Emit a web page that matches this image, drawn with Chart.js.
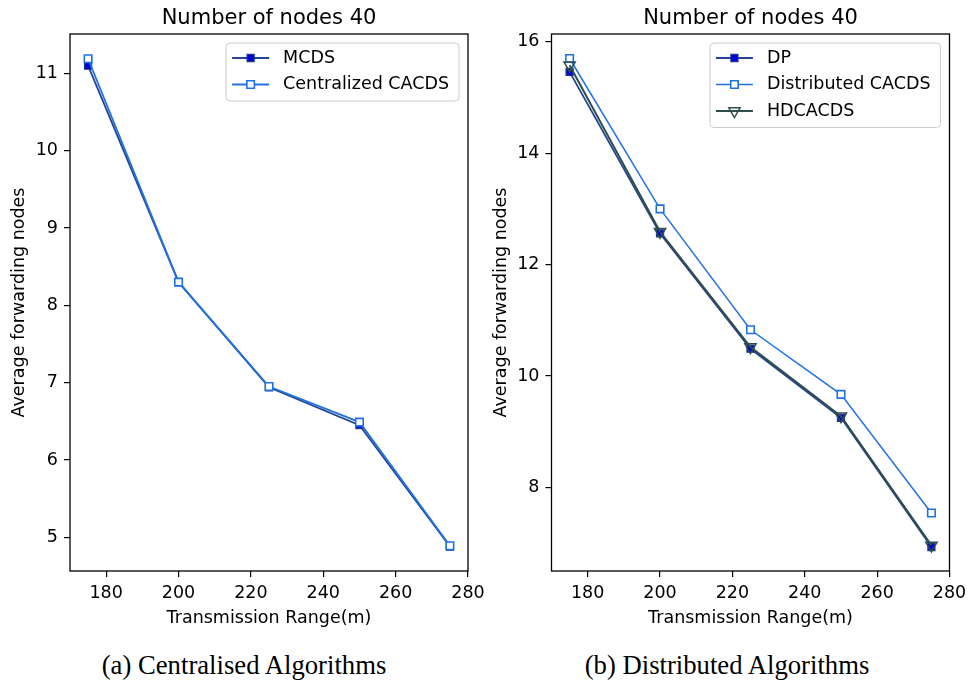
<!DOCTYPE html>
<html><head><meta charset="utf-8">
<script src="https://cdn.jsdelivr.net/npm/chart.js@4.4.1/dist/chart.umd.min.js"></script>
<style>
html,body{margin:0;padding:0;background:#fff;}
#wrap{position:relative;width:971px;height:685px;overflow:hidden;background:#fff;}
canvas{position:absolute;top:0;}
.cap{position:absolute;top:650px;width:400px;text-align:center;font-family:"Liberation Serif","Times New Roman",serif;font-size:26.7px;line-height:30px;color:#000;white-space:nowrap;}
</style></head><body>
<div id="wrap">
<canvas id="c1" width="485" height="640" style="left:0;width:485px;height:640px"></canvas>
<canvas id="c2" width="486" height="640" style="left:485px;width:486px;height:640px"></canvas>
<div class="cap" style="left:44px">(a) Centralised Algorithms</div>
<div class="cap" style="left:527px">(b) Distributed Algorithms</div>
</div>
<script>
// ---- data ----
const ranges = [175, 200, 225, 250, 275];
const mcds = [11.10, 8.30, 6.94, 6.45, 4.88];
const centralizedCacds = [11.19, 8.30, 6.95, 6.49, 4.89];
const dp = [15.46, 12.56, 10.49, 9.25, 6.93];
const distributedCacds = [15.70, 13.00, 10.83, 9.67, 7.54];
const hdcacds = [15.58, 12.59, 10.52, 9.28, 6.96];
const xTicks = [180, 200, 220, 240, 260, 280];
const yTicksA = [5, 6, 7, 8, 9, 10, 11];
const yTicksB = [8, 10, 12, 14, 16];
const titleText = 'Number of nodes 40';
const xLabel = 'Transmission Range(m)';
const yLabel = 'Average forwarding nodes';

const FONT = "'DejaVu Sans', sans-serif";
Chart.defaults.font.family = FONT;
Chart.defaults.color = '#000';

const pts = ys => ys.map((y, i) => ({x: ranges[i], y}));

function drawMarker(ctx, style, r, rot, x, y) {
  ctx.beginPath();
  if (style === 'rect') {
    const s = Math.SQRT1_2 * r;
    ctx.rect(x - s, y - s, 2 * s, 2 * s);
  } else if (style === 'triangle') {
    let rad = rot * Math.PI / 180;
    for (let k = 0; k < 3; k++) {
      const px = x + Math.sin(rad) * r, py = y - Math.cos(rad) * r;
      if (k === 0) ctx.moveTo(px, py); else ctx.lineTo(px, py);
      rad += 2 * Math.PI / 3;
    }
    ctx.closePath();
  }
  ctx.fill();
  ctx.stroke();
}

const frameAndLegend = {
  id: 'frameAndLegend',
  afterDatasetsDraw(chart) {
    const {ctx, chartArea: a} = chart;
    ctx.save();
    ctx.strokeStyle = '#000';
    ctx.lineWidth = 1.3;
    ctx.strokeRect(a.left, a.top, a.right - a.left, a.bottom - a.top);
    const ds = chart.data.datasets;
    ctx.font = '17.5px ' + FONT;
    let tw = 0;
    ds.forEach(d => { tw = Math.max(tw, ctx.measureText(d.label).width); });
    const padL = 6, lineLen = 37, gap = 14, padR = 10, rowH = 26.5;
    const w = padL + lineLen + gap + tw + padR;
    const h = ds.length * rowH + 5;
    const x0 = a.right - 9 - w, y0 = a.top + 9;
    const rr = 4;
    ctx.beginPath();
    ctx.moveTo(x0 + rr, y0);
    ctx.arcTo(x0 + w, y0, x0 + w, y0 + h, rr);
    ctx.arcTo(x0 + w, y0 + h, x0, y0 + h, rr);
    ctx.arcTo(x0, y0 + h, x0, y0, rr);
    ctx.arcTo(x0, y0, x0 + w, y0, rr);
    ctx.closePath();
    ctx.fillStyle = 'rgba(255,255,255,0.85)';
    ctx.fill();
    ctx.strokeStyle = '#cccccc';
    ctx.lineWidth = 1;
    ctx.stroke();
    ds.forEach((d, i) => {
      const cy = y0 + 15 + i * rowH;
      const lx = x0 + padL;
      ctx.strokeStyle = d.borderColor;
      ctx.lineWidth = d.borderWidth;
      ctx.beginPath();
      ctx.moveTo(lx, cy);
      ctx.lineTo(lx + lineLen, cy);
      ctx.stroke();
      ctx.fillStyle = d.pointBackgroundColor;
      ctx.strokeStyle = d.pointBorderColor;
      ctx.lineWidth = d.pointBorderWidth;
      drawMarker(ctx, d.pointStyle, d.pointRadius, d.rotation || 0, lx + lineLen / 2, cy);
      ctx.fillStyle = '#000';
      ctx.textAlign = 'left';
      ctx.textBaseline = 'middle';
      ctx.fillText(d.label, lx + lineLen + gap, cy);
    });
    ctx.restore();
  }
};

function makeChart(id, datasets, yMin, yMax, yTicks, yWidth, yTitlePad) {
  return new Chart(document.getElementById(id), {
    type: 'line',
    data: {datasets},
    options: {
      responsive: false,
      animation: false,
      events: [],
      layout: {padding: {left: 0, right: id === 'c1' ? 17 : 21.5, top: 0, bottom: 0}},
      plugins: {
        legend: {display: false},
        tooltip: {enabled: false},
        title: {
          display: true, text: titleText, fullSize: false, color: '#000',
          font: {size: 21, weight: 'normal', family: FONT},
          padding: {top: 5.5, bottom: 3.3}
        }
      },
      scales: {
        x: {
          type: 'linear', min: 170, max: 280,
          afterBuildTicks: s => { s.ticks = xTicks.map(v => ({value: v})); },
          afterFit: s => { s.height = 69; s.paddingLeft = 0; s.paddingRight = 0; },
          ticks: {font: {size: 17.5}, color: '#000', padding: 6, maxRotation: 0, autoSkip: false},
          grid: {drawOnChartArea: false, drawTicks: true, tickLength: 6, color: '#000', lineWidth: 1.2},
          border: {display: false},
          title: {display: true, text: xLabel, color: '#000', font: {size: 17.5}, padding: {top: 0, bottom: 11.5}}
        },
        y: {
          type: 'linear', min: yMin, max: yMax,
          afterBuildTicks: s => { s.ticks = yTicks.map(v => ({value: v})); },
          afterFit: s => { s.width = yWidth; s.paddingTop = 0; s.paddingBottom = 0; },
          ticks: {font: {size: 17.5}, color: '#000', padding: 6},
          grid: {drawOnChartArea: false, drawTicks: true, tickLength: 6, color: '#000', lineWidth: 1.2},
          border: {display: false},
          title: {display: true, text: yLabel, color: '#000', font: {size: 17.5}, padding: {top: yTitlePad, bottom: 0}}
        }
      }
    },
    plugins: [frameAndLegend]
  });
}

const NAVY = '#24458f', NAVYEDGE = '#1a3a85', FILL = '#0000d8';
const BRIGHT = '#2171e6', SLATE = '#2f4f4f';

makeChart('c1', [
  {label: 'MCDS', data: pts(mcds), borderColor: NAVY, borderWidth: 1.8, tension: 0,
   pointStyle: 'rect', pointRadius: 5, pointBackgroundColor: FILL, pointBorderColor: NAVYEDGE, pointBorderWidth: 1.2, order: 2},
  {label: 'Centralized CACDS', data: pts(centralizedCacds), borderColor: BRIGHT, borderWidth: 1.8, tension: 0,
   pointStyle: 'rect', pointRadius: 5.3, pointBackgroundColor: '#ffffff', pointBorderColor: BRIGHT, pointBorderWidth: 1.6, order: 1}
], 4.564, 11.51, yTicksA, 70, 9);

makeChart('c2', [
  {label: 'DP', data: pts(dp), borderColor: NAVY, borderWidth: 1.8, tension: 0,
   pointStyle: 'rect', pointRadius: 5, pointBackgroundColor: FILL, pointBorderColor: NAVYEDGE, pointBorderWidth: 1.2, order: 3},
  {label: 'Distributed CACDS', data: pts(distributedCacds), borderColor: BRIGHT, borderWidth: 1.5, tension: 0,
   pointStyle: 'rect', pointRadius: 5.3, pointBackgroundColor: '#ffffff', pointBorderColor: BRIGHT, pointBorderWidth: 1.6, order: 2},
  {label: 'HDCACDS', data: pts(hdcacds), borderColor: SLATE, borderWidth: 2, tension: 0,
   pointStyle: 'triangle', rotation: 180, pointRotation: 180, pointRadius: 6.5, pointBackgroundColor: 'rgba(255,255,255,0)', pointBorderColor: SLATE, pointBorderWidth: 1.5, order: 1}
], 6.50, 16.14, yTicksB, 66.5, 5.5);
</script>
</body></html>
